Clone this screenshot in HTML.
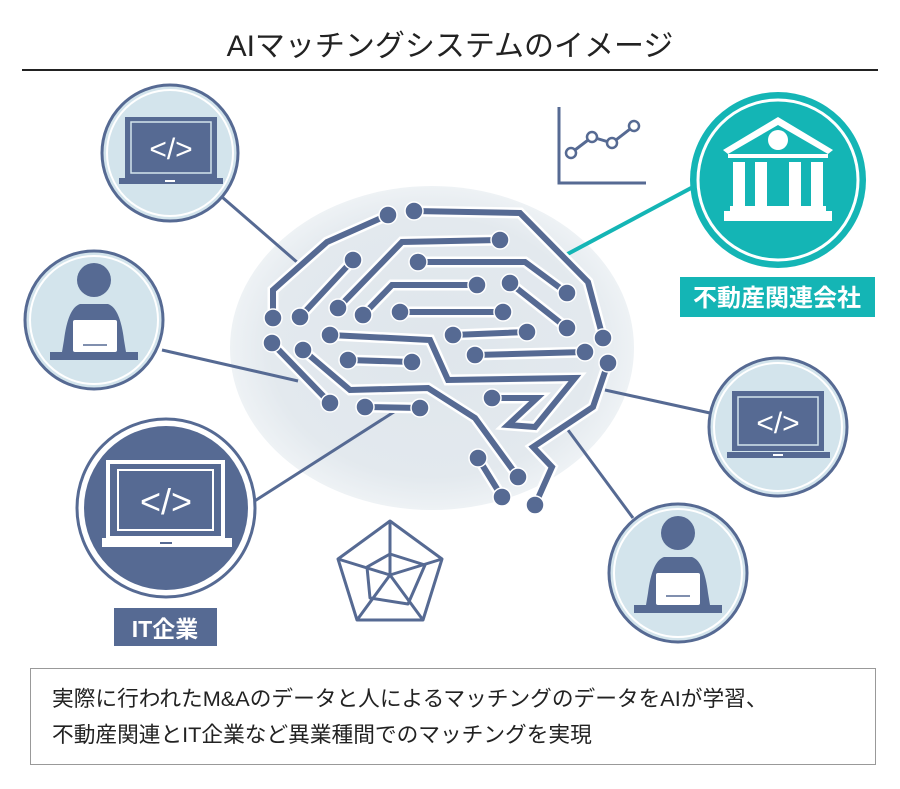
<!DOCTYPE html>
<html><head><meta charset="utf-8"><style>
body{margin:0;background:#fff}
svg{display:block}
text{font-family:"Liberation Sans","Noto Sans CJK JP",sans-serif}
</style></head><body>
<svg width="900" height="789" viewBox="0 0 900 789" xmlns="http://www.w3.org/2000/svg">
<defs>
<radialGradient id="bg" cx="0.5" cy="0.5" r="0.5">
<stop offset="0" stop-color="#dfe6ec"/><stop offset="0.8" stop-color="#e3e9ee"/><stop offset="1" stop-color="#eef2f5"/>
</radialGradient>
</defs>
<text x="450" y="56" font-size="30" text-anchor="middle" fill="#222">AIマッチングシステムのイメージ</text>
<line x1="22" y1="70" x2="878" y2="70" stroke="#222" stroke-width="2"/>

<ellipse cx="432" cy="348" rx="202" ry="162" fill="url(#bg)"/>

<g stroke="#566a93" stroke-width="3">
<line x1="222" y1="197" x2="298" y2="263"/>
<line x1="162" y1="350" x2="298" y2="381"/>
<line x1="253" y1="502" x2="397" y2="410"/>
<line x1="605" y1="390" x2="710" y2="413"/>
<line x1="568" y1="430" x2="633" y2="518"/>
</g>
<line x1="562" y1="257" x2="693" y2="187" stroke="#14b5b5" stroke-width="4"/>

<g fill="none" stroke-linejoin="miter" stroke-linecap="round">
<g stroke="#fff" stroke-width="11">
<path id="c" d="M388,215 L327,242 L273,290 L273,318 M414,211 L520,213 L588,282 L603,338 M353,260 L300,317 M500,240 L402,242 L338,308 M418,262 L525,262 L567,293 M477,285 L392,285 L363,315 M510,283 L567,328 M400,312 L503,312 M453,335 L527,332 M475,355 L585,352 M330,335 L430,340 L448,380 L575,378 L535,427 L508,425 L537,398 L492,398 M272,343 L330,403 M303,350 L350,390 L428,388 L475,418 L518,477 M348,360 L412,362 M365,407 L420,408 M608,363 L593,407 L533,447 L552,467 L535,505 M478,458 L502,497"/>
</g>
<use href="#c" stroke="#566a93" stroke-width="6"/>
</g>
<g fill="#566a93" stroke="#fff" stroke-width="1.5">
<circle cx="388" cy="215" r="9"/><circle cx="273" cy="318" r="9"/>
<circle cx="414" cy="211" r="9"/><circle cx="603" cy="338" r="9"/>
<circle cx="353" cy="260" r="9"/><circle cx="300" cy="317" r="9"/>
<circle cx="500" cy="240" r="9"/><circle cx="338" cy="308" r="9"/>
<circle cx="418" cy="262" r="9"/><circle cx="567" cy="293" r="9"/>
<circle cx="477" cy="285" r="9"/><circle cx="363" cy="315" r="9"/>
<circle cx="510" cy="283" r="9"/><circle cx="567" cy="328" r="9"/>
<circle cx="400" cy="312" r="9"/><circle cx="503" cy="312" r="9"/>
<circle cx="453" cy="335" r="9"/><circle cx="527" cy="332" r="9"/>
<circle cx="475" cy="355" r="9"/><circle cx="585" cy="352" r="9"/>
<circle cx="330" cy="335" r="9"/><circle cx="492" cy="398" r="9"/>
<circle cx="272" cy="343" r="9"/><circle cx="330" cy="403" r="9"/>
<circle cx="303" cy="350" r="9"/><circle cx="518" cy="477" r="9"/>
<circle cx="348" cy="360" r="9"/><circle cx="412" cy="362" r="9"/>
<circle cx="365" cy="407" r="9"/><circle cx="420" cy="408" r="9"/>
<circle cx="608" cy="363" r="9"/><circle cx="535" cy="505" r="9"/>
<circle cx="478" cy="458" r="9"/><circle cx="502" cy="497" r="9"/>
</g>

<g stroke="#566a93" stroke-width="3" fill="none">
<path d="M559,107 L559,183 L646,183"/>
<path d="M571,153 L592,137 L612,143 L634,126"/>
<g fill="#fff" stroke-width="2.5"><circle cx="571" cy="153" r="5"/><circle cx="592" cy="137" r="5"/><circle cx="612" cy="143" r="5"/><circle cx="634" cy="126" r="5"/></g>
</g>

<g stroke="#566a93" stroke-width="3" fill="none" stroke-linejoin="round">
<path d="M390,521 L442,559 L423,620 L357,620 L338,559 Z"/>
<path d="M390,554 L425,565 L408,604 L370,598 L367,567 Z"/>
<path d="M390,521 L390,575 M442,559 L390,575 M423,620 L390,575 M357,620 L390,575 M338,559 L390,575"/>
</g>

<circle cx="170" cy="153" r="68" fill="#d3e4ec" stroke="#566a93" stroke-width="3"/>
<circle cx="170" cy="153" r="63" fill="none" stroke="#fff" stroke-width="2"/>
<rect x="125" y="117" width="92" height="61" fill="#566a93"/>
<rect x="131" y="122" width="80" height="51" fill="none" stroke="#d3e4ec" stroke-width="1.5"/>
<text x="171" y="159" font-size="30" fill="#fff" text-anchor="middle">&lt;/&gt;</text>
<rect x="119" y="178" width="104" height="6" fill="#566a93"/>
<rect x="165" y="180" width="10" height="2" fill="#fff"/>

<circle cx="94" cy="320" r="69" fill="#d3e4ec" stroke="#566a93" stroke-width="3"/>
<circle cx="94" cy="320" r="64" fill="none" stroke="#fff" stroke-width="2"/>
<circle cx="94" cy="280" r="17" fill="#566a93"/>
<path d="M80,304 L108,304 Q120,308 124,340 L126,352 L62,352 L64,340 Q68,308 80,304 Z" fill="#566a93"/>
<rect x="73" y="320" width="44" height="32" rx="2" fill="#fff"/>
<line x1="83" y1="345" x2="107" y2="345" stroke="#566a93" stroke-width="1.5"/>
<rect x="50" y="352" width="88" height="8" fill="#566a93"/>

<circle cx="166" cy="508" r="89" fill="#fff" stroke="#566a93" stroke-width="3"/>
<circle cx="166" cy="508" r="82" fill="#566a93"/>
<rect x="108" y="462" width="115" height="76" fill="none" stroke="#fff" stroke-width="4"/>
<rect x="118" y="470" width="95" height="60" fill="none" stroke="#fff" stroke-width="2"/>
<text x="166" y="514" font-size="36" fill="#fff" text-anchor="middle">&lt;/&gt;</text>
<rect x="102" y="538" width="130" height="9" fill="#fff"/>
<rect x="160" y="542" width="12" height="2" fill="#566a93"/>
<rect x="114" y="608" width="103" height="38" fill="#566a93"/>
<text x="165" y="637" font-size="23" font-weight="bold" fill="#fff" text-anchor="middle">IT企業</text>

<circle cx="778" cy="180" r="88" fill="#14b5b5"/>
<circle cx="778" cy="180" r="80" fill="none" stroke="#fff" stroke-width="3"/>
<path d="M723,150 L778,117 L833,150 L828,154 L778,125 L728,154 Z" fill="#fff"/>
<circle cx="778" cy="140" r="10" fill="#fff"/>
<rect x="728" y="154" width="100" height="4" fill="#fff"/>
<g fill="#fff"><rect x="733" y="162" width="12" height="44"/><rect x="755" y="162" width="12" height="44"/><rect x="789" y="162" width="12" height="44"/><rect x="811" y="162" width="12" height="44"/>
<rect x="730" y="206" width="96" height="5"/><rect x="724" y="211" width="108" height="10"/></g>
<rect x="680" y="277" width="195" height="40" fill="#14b5b5"/>
<text x="777" y="306" font-size="24" font-weight="bold" fill="#fff" text-anchor="middle">不動産関連会社</text>

<circle cx="778" cy="427" r="69" fill="#d3e4ec" stroke="#566a93" stroke-width="3"/>
<circle cx="778" cy="427" r="64" fill="none" stroke="#fff" stroke-width="2"/>
<rect x="732" y="391" width="92" height="60" fill="#566a93"/>
<rect x="738" y="397" width="80" height="48" fill="none" stroke="#d3e4ec" stroke-width="1.5"/>
<text x="778" y="433" font-size="30" fill="#fff" text-anchor="middle">&lt;/&gt;</text>
<rect x="727" y="452" width="103" height="6" fill="#566a93"/>
<rect x="773" y="454" width="10" height="2" fill="#fff"/>

<circle cx="678" cy="573" r="69" fill="#d3e4ec" stroke="#566a93" stroke-width="3"/>
<circle cx="678" cy="573" r="64" fill="none" stroke="#fff" stroke-width="2"/>
<circle cx="678" cy="533" r="17" fill="#566a93"/>
<path d="M664,557 L692,557 Q704,561 708,593 L710,605 L646,605 L648,593 Q652,561 664,557 Z" fill="#566a93"/>
<rect x="656" y="573" width="44" height="32" rx="2" fill="#fff"/>
<line x1="666" y1="596" x2="690" y2="596" stroke="#566a93" stroke-width="1.5"/>
<rect x="634" y="605" width="88" height="8" fill="#566a93"/>

<rect x="30.5" y="668.5" width="845" height="96" fill="#fff" stroke="#999" stroke-width="1"/>
<text x="52" y="706" font-size="21.7" fill="#222">実際に行われたM&amp;Aのデータと人によるマッチングのデータをAIが学習、</text>
<text x="52" y="742" font-size="21.7" fill="#222">不動産関連とIT企業など異業種間でのマッチングを実現</text>
</svg>
</body></html>
